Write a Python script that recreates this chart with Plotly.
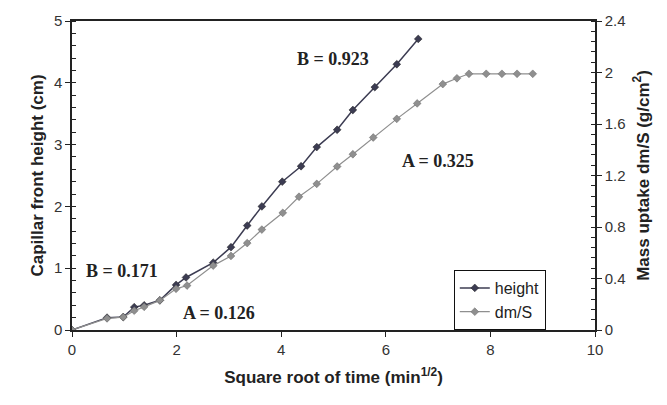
import plotly.graph_objects as go

# Square root of time (min^1/2)
x_height = [0, 0.67, 0.98, 1.19, 1.38, 1.68, 1.99, 2.18, 2.70, 3.04, 3.35, 3.63, 4.02, 4.38, 4.68, 5.07, 5.37, 5.79, 6.21, 6.62]
height = [0, 0.20, 0.21, 0.37, 0.40, 0.48, 0.73, 0.85, 1.09, 1.34, 1.69, 2.00, 2.40, 2.65, 2.96, 3.24, 3.56, 3.93, 4.30, 4.71]

x_dms = [0, 0.67, 0.98, 1.19, 1.38, 1.68, 1.99, 2.20, 2.70, 3.04, 3.35, 3.63, 4.03, 4.34, 4.68, 5.07, 5.37, 5.76, 6.21, 6.60, 7.09, 7.36, 7.59, 7.92, 8.22, 8.51, 8.81]
dms = [0, 0.09, 0.10, 0.15, 0.18, 0.23, 0.32, 0.345, 0.50, 0.575, 0.675, 0.78, 0.91, 1.035, 1.135, 1.27, 1.365, 1.495, 1.64, 1.76, 1.91, 1.955, 1.99, 1.99, 1.99, 1.99, 1.99]

labels = [("B = 0.923", 4.99, 4.38), ("A = 0.325", 7.0, 2.73), ("B = 0.171", 0.96, 0.96), ("A = 0.126", 2.81, 0.27)]

dark = "#3c3c52"
gray = "#8f8f8f"

fig = go.Figure()
fig.add_trace(go.Scatter(x=x_height, y=height, name="height", mode="lines+markers",
                         line=dict(color=dark, width=1.5),
                         marker=dict(symbol="diamond", size=6, color=dark, line=dict(color="#222", width=0.5))))
fig.add_trace(go.Scatter(x=x_dms, y=dms, name="dm/S", mode="lines+markers", yaxis="y2",
                         line=dict(color=gray, width=1.2),
                         marker=dict(symbol="diamond", size=6, color=gray, line=dict(color="#666", width=0.5))))

for t, xx, yy in labels:
    fig.add_annotation(x=xx, y=yy, xref="x", yref="y", text="<b>" + t + "</b>", showarrow=False,
                       font=dict(family="Liberation Serif, Times New Roman, serif", size=18, color="#222"))

axfont = dict(family="Liberation Sans, Arial, sans-serif", size=15, color="#333")
titlefont = dict(family="Liberation Sans, Arial, sans-serif", size=17, color="#222")

fig.update_layout(
    width=667, height=405,
    margin=dict(l=72, r=72, t=17, b=75),
    paper_bgcolor="white", plot_bgcolor="white",
    showlegend=True,
    legend=dict(x=0.73, y=0.0, xanchor="left", yanchor="bottom",
                bordercolor="#111", borderwidth=1, bgcolor="white",
                font=dict(family="Liberation Sans, Arial, sans-serif", size=16, color="#222"),
                tracegroupgap=0, itemwidth=30),
    xaxis=dict(range=[0, 10], dtick=2, showgrid=False, zeroline=False,
               showline=True, linecolor="#222", linewidth=1.5, mirror=True,
               ticks="outside", ticklen=5, tickcolor="#222", tickfont=axfont,
               title=dict(text="<b>Square root of time (min<sup>1/2</sup>)</b>", font=titlefont, standoff=14)),
    yaxis=dict(range=[0, 5], dtick=1, showgrid=False, zeroline=False,
               showline=True, linecolor="#222", linewidth=1.5,
               ticks="outside", ticklen=5, tickcolor="#222", tickfont=axfont,
               minor=dict(dtick=0.2, ticks="inside", ticklen=4, tickcolor="#222"),
               title=dict(text="<b>Capillar front height (cm)</b>", font=titlefont, standoff=6)),
    yaxis2=dict(range=[0, 2.4], dtick=0.4, overlaying="y", side="right", showgrid=False, zeroline=False,
                showline=True, linecolor="#222", linewidth=1.5,
                ticks="outside", ticklen=5, tickcolor="#222", tickfont=axfont,
                minor=dict(dtick=0.08, ticks="inside", ticklen=4, tickcolor="#222"),
                title=dict(text="<b>Mass uptake dm/S (g/cm<sup>2</sup>)</b>", font=titlefont, standoff=12)),
)

fig.write_html("out.html")
